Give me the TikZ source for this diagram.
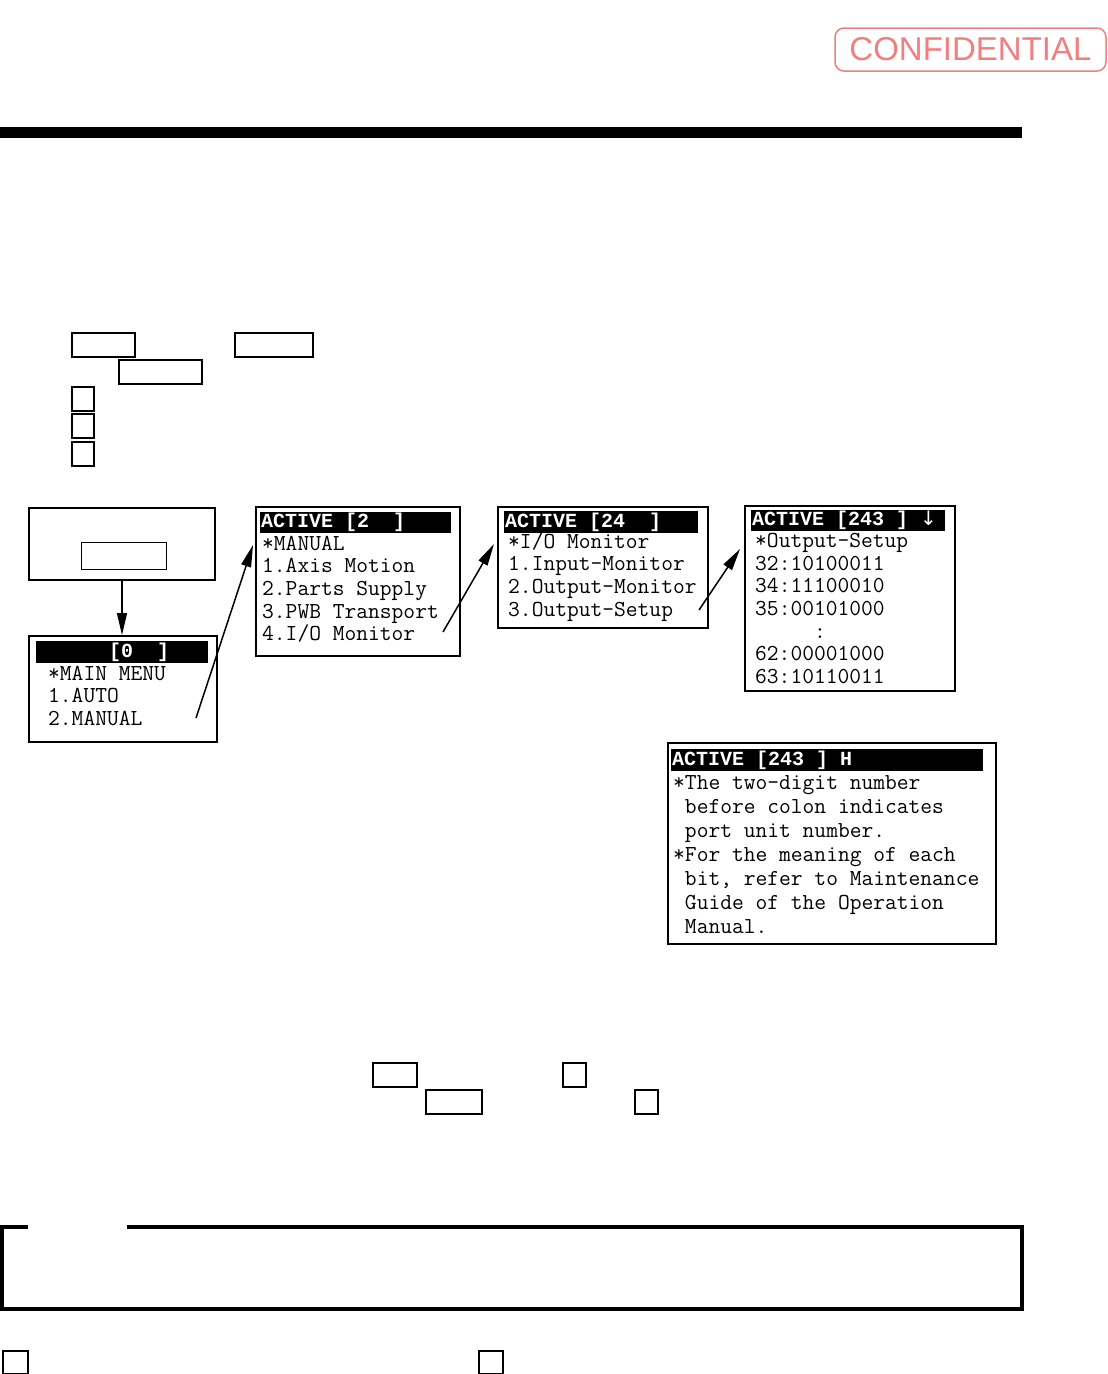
\documentclass[tikz,border=0pt]{standalone}
\usepackage{fontspec}
\setmainfont{Liberation Serif}
\newfontfamily\barfont{Liberation Mono}
\newfontfamily\stampfont{Liberation Sans}
\newfontfamily\markfont{DejaVu Sans}
\usetikzlibrary{arrows.meta,positioning}
\definecolor{stamp}{RGB}{240,128,128}

\begin{document}
\begin{tikzpicture}[x=1pt,y=-1pt,
every node/.style={inner sep=0pt},
keybox/.style={draw,line width=1.6pt,anchor=north west},
screen/.style={draw,line width=2pt,anchor=north west},
bar/.style={fill=black,anchor=north west},
bartext/.style={anchor=west,text=white,font=\barfont\bfseries\fontsize{20}{20}\selectfont,text height=13pt,text depth=3pt},
lcd/.style={anchor=west,font=\ttfamily\fontsize{22.86}{24}\selectfont,text height=13pt,text depth=4pt},
go/.style={-{Triangle[length=22pt,width=10pt]},line width=1.5pt}]
\useasboundingbox (0,0) rectangle (1108,1374);

% stamp and page rule
\node[draw=stamp,rounded corners=9pt,line width=1.5pt,minimum width=271pt,minimum height=43pt,
  text=stamp,font=\stampfont\fontsize{33}{33}\selectfont] (conf) at (970.5,49.5) {CONFIDENTIAL};
\node[bar,minimum width=1022pt,minimum height=11pt] (rule) at (0,127) {};

% key boxes, top
\node[keybox,minimum width=63pt,minimum height=24pt] (k1) at (71,332) {};
\node[keybox,minimum width=78pt,minimum height=24pt] (k2) at (234,332) {};
\node[keybox,minimum width=83pt,minimum height=24pt] (k3) at (118,359) {};
\node[keybox,minimum width=22pt,minimum height=24pt] (k4) at (71,386) {};
\node[keybox,minimum width=22pt,minimum height=24pt] (k5) at (71,413) {};
\node[keybox,minimum width=22pt,minimum height=24pt] (k6) at (71,441) {};

% power-on box
\node[screen,minimum width=186pt,minimum height=72pt] (A) at (28,507) {};
\node[keybox,line width=1.2pt,minimum width=85pt,minimum height=27pt] (Akey) at (81,542) {};

% screen [0]
\node[screen,minimum width=188pt,minimum height=106pt] (S0) at (28,635) {};
\node[bar,minimum width=172pt,minimum height=22pt] (B0) at (36,641) {};
\node[bartext] (T0) at ([xshift=1pt]B0.west) {~~~~~~[0~~]};
\node[lcd] (S0a) at (48,676) {*MAIN MENU};
\node[lcd] (S0b) at (48,698) {1.AUTO};
\node[lcd] (S0c) at (48,721) {2.MANUAL};

% screen [2]
\node[screen,minimum width=204pt,minimum height=149pt] (S2) at (255,506) {};
\node[bar,minimum width=191pt,minimum height=21pt] (B2) at (260,512) {};
\node[bartext] (T2) at ([xshift=1pt]B2.west) {ACTIVE [2~~]};
\node[lcd] (S2a) at (262,546) {*MANUAL};
\node[lcd] (S2b) at (262,568) {1.Axis Motion};
\node[lcd] (S2c) at (262,591) {2.Parts Supply};
\node[lcd] (S2d) at (262,614) {3.PWB Transport};
\node[lcd] (S2e) at (262,636) {4.I/O Monitor};

% screen [24]
\node[screen,minimum width=210pt,minimum height=121pt] (S24) at (497,506) {};
\node[bar,minimum width=194pt,minimum height=22pt] (B24) at (504,511) {};
\node[bartext] (T24) at ([xshift=1pt]B24.west) {ACTIVE [24~~]};
\node[lcd] (S24a) at (508,544) {*I/O Monitor};
\node[lcd] (S24b) at (508,566) {1.Input-Monitor};
\node[lcd] (S24c) at (508,589) {2.Output-Monitor};
\node[lcd] (S24d) at (508,612) {3.Output-Setup};

% screen [243]
\node[screen,minimum width=210pt,minimum height=185pt] (S243) at (744,505) {};
\node[bar,minimum width=194pt,minimum height=21pt] (B243) at (751,510) {};
\node[bartext] (T243) at ([xshift=1pt]B243.west) {ACTIVE [243~] {\markfont\mdseries\fontsize{20}{20}\selectfont ↓}};
\node[lcd] (S243a) at (755,543) {*Output-Setup};
\node[lcd] (S243b) at (755,566) {32:10100011};
\node[lcd] (S243c) at (755,588) {34:11100010};
\node[lcd] (S243d) at (755,611) {35:00101000};
\node[lcd] (S243e) at (755,634) {~~~~~:};
\node[lcd] (S243f) at (755,656) {62:00001000};
\node[lcd] (S243g) at (755,679) {63:10110011};

% help screen
\node[screen,minimum width=328pt,minimum height=201pt] (SH) at (667,742) {};
\node[bar,minimum width=312pt,minimum height=22pt] (BH) at (671,749) {};
\node[bartext] (TH) at ([xshift=1pt]BH.west) {ACTIVE [243~] H};
\node[lcd] (SHa) at (673,785) {*The two-digit number};
\node[lcd] (SHb) at (673,809) {~before colon indicates};
\node[lcd] (SHc) at (673,833) {~port unit number.};
\node[lcd] (SHd) at (673,857) {*For the meaning of each};
\node[lcd] (SHe) at (673,881) {~bit, refer to Maintenance};
\node[lcd] (SHf) at (673,905) {~Guide of the Operation};
\node[lcd] (SHg) at (673,929) {~Manual.};

% arrows
\coordinate (p0) at (196,718);
\coordinate (q2) at (253,545);
\coordinate (p2) at (443,632);
\coordinate (q24) at (494,544);
\coordinate (p24) at (699,610);
\coordinate (q243) at (740,549);
\draw[go] (A.south) -- (A.south|-S0.north);
\draw[go] (p0) -- (q2);
\draw[go] (p2) -- (q24);
\draw[go] (p24) -- (q243);

% key boxes, lower
\node[keybox,minimum width=44pt,minimum height=24pt] (k7) at (372,1062) {};
\node[keybox,minimum width=56pt,minimum height=24pt] (k8) at (425,1089) {};
\node[keybox,minimum width=23pt,minimum height=24pt] (k9) at (562,1062) {};
\node[keybox,minimum width=23pt,minimum height=24pt] (k10) at (634,1089) {};

% note frame
\draw[line width=3.5pt] (28,1227) -| (2,1309) -| (1022,1227) -- (127,1227);

% key boxes, bottom
\node[keybox,minimum width=25pt,minimum height=23pt] (k11) at (2,1350) {};
\node[keybox,minimum width=24pt,minimum height=23pt] (k12) at (478,1350) {};
\end{tikzpicture}
\end{document}
